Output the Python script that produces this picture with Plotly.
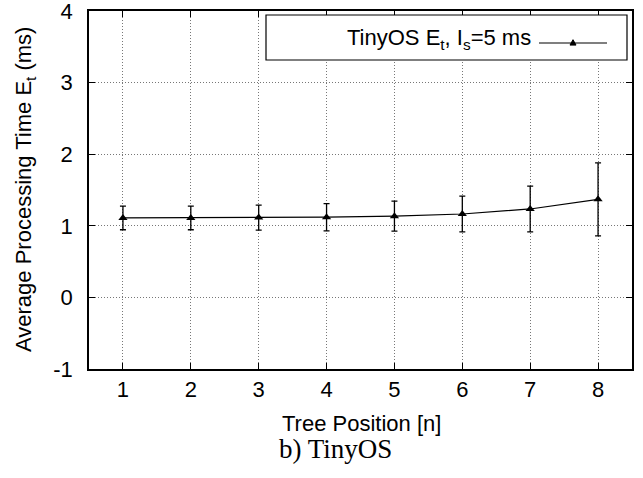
import plotly.graph_objects as go

# ---- data ----
tree_position = [1, 2, 3, 4, 5, 6, 7, 8]
avg_time_ms = [1.11, 1.11, 1.115, 1.12, 1.135, 1.165, 1.235, 1.37]
err_ms = [0.165, 0.165, 0.175, 0.19, 0.21, 0.25, 0.32, 0.51]
x_ticks = [1, 2, 3, 4, 5, 6, 7, 8]
y_ticks = [-1, 0, 1, 2, 3, 4]
y_tick_labels = ["-1", "0", "1", "2", "3", "4"]
series_name = "TinyOS E<sub>t</sub>, I<sub>s</sub>=5 ms"

W, H = 643, 478
ML, MR, MT, MB = 89, 11, 11, 109
PW, PH = W - ML - MR, H - MT - MB

def px(x):
    return (x - ML) / PW

def py(y):
    return (H - MB - y) / PH

FONT = "Liberation Sans, Arial, sans-serif"
FS = 22

fig = go.Figure()
fig.add_trace(go.Scatter(
    x=tree_position, y=avg_time_ms, mode="lines+markers",
    line=dict(color="black", width=1.2),
    marker=dict(symbol="triangle-up", size=8, color="black"),
    error_y=dict(type="data", array=err_ms, visible=True,
                 color="black", thickness=1.3, width=3),
    showlegend=False,
))

axis_common = dict(
    showline=True, linecolor="black", linewidth=1.5, mirror="allticks",
    ticks="inside", ticklen=6, tickcolor="black", tickwidth=1,
    showgrid=True, gridcolor="#777", gridwidth=1, griddash="1px,2px",
    zeroline=False, automargin=False, ticklabeloverflow="allow",
    tickfont=dict(family=FONT, size=FS, color="black"),
)

fig.update_xaxes(range=[0.5, 8.5], tickvals=x_ticks, ticklabelstandoff=0, **axis_common)
fig.update_yaxes(range=[-1, 4], tickvals=y_ticks, ticktext=y_tick_labels,
                 ticklabelstandoff=10, **axis_common)

annotations = [
    dict(text="Average Processing Time E<sub>t</sub> (ms)", textangle=-90,
         x=px(25), y=py(190), xref="paper", yref="paper", showarrow=False,
         xanchor="center", yanchor="middle",
         font=dict(family=FONT, size=FS, color="black")),
    dict(text="Tree Position [n]",
         x=px(361), y=py(423), xref="paper", yref="paper", showarrow=False,
         xanchor="center", yanchor="middle",
         font=dict(family=FONT, size=FS, color="black")),
    dict(text="b) TinyOS",
         x=px(335), y=py(449), xref="paper", yref="paper", showarrow=False,
         xanchor="center", yanchor="middle",
         font=dict(family="Liberation Serif, Times New Roman, serif", size=27, color="black")),
    dict(text=series_name,
         x=px(533), y=py(39), xref="paper", yref="paper", showarrow=False,
         xanchor="right", yanchor="middle",
         font=dict(family=FONT, size=FS, color="black")),
]

# legend box and sample (drawn manually so the sample is on the right)
ly = 43
tri = 3
shapes = [
    dict(type="rect", xref="paper", yref="paper",
         x0=px(266), x1=px(627), y0=py(15), y1=py(60),
         line=dict(color="black", width=1.2), fillcolor="white", layer="above"),
    dict(type="line", xref="paper", yref="paper",
         x0=px(539), x1=px(607), y0=py(ly), y1=py(ly),
         line=dict(color="black", width=1.2), layer="above"),
    dict(type="path", xref="paper", yref="paper",
         path=f"M {px(573 - tri)},{py(ly + tri * 0.7)} L {px(573 + tri)},{py(ly + tri * 0.7)} L {px(573)},{py(ly - tri * 1.1)} Z",
         line=dict(color="black", width=1), fillcolor="black", layer="above"),
]

fig.update_layout(
    width=W, height=H,
    margin=dict(l=ML, r=MR, t=MT, b=MB),
    paper_bgcolor="white", plot_bgcolor="white",
    annotations=annotations, shapes=shapes,
    showlegend=False,
)

fig.write_html("out.html")
